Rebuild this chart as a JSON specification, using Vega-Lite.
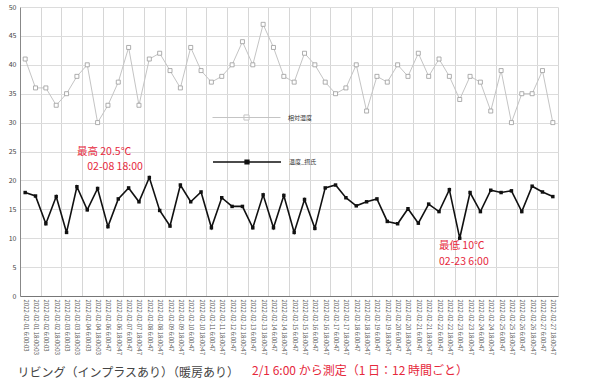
{
  "$schema": "https://vega.github.io/schema/vega-lite/v6.json",
  "width": 538,
  "height": 289,
  "autosize": {"type": "none"},
  "padding": {"left": 20, "top": 7, "right": 32, "bottom": 84},
  "config": {
    "font": "Noto Sans CJK JP",
    "view": {"stroke": null},
    "axisY": {"values": [0, 10, 20, 30, 40, 50], "labelFontSize": 7, "labelColor": "#444", "ticks": false, "labelPadding": 4, "gridColor": "#dcdcdc", "domainColor": "#888"}
  },
  "title": {"text": "2/1 6:00 から測定（1 日：12 時間ごと）", "orient": "bottom", "anchor": "start", "frame": "group", "dx": 232, "offset": -3, "baseline": "alphabetic", "fontSize": 12, "fontWeight": "normal", "color": "#e6283c"},
  "data": {"values": [
    {"t": "2022-02-01 6:00:03", "h": 41, "c": 17.9},
    {"t": "2022-02-01 18:00:03", "h": 36, "c": 17.3},
    {"t": "2022-02-02 6:00:03", "h": 36, "c": 12.5},
    {"t": "2022-02-02 18:00:03", "h": 33, "c": 17.2},
    {"t": "2022-02-03 6:00:03", "h": 35, "c": 11.0},
    {"t": "2022-02-03 18:00:03", "h": 38, "c": 18.9},
    {"t": "2022-02-04 6:00:03", "h": 40, "c": 14.9},
    {"t": "2022-02-04 18:00:03", "h": 30, "c": 18.6},
    {"t": "2022-02-06 6:00:47", "h": 33, "c": 12.0},
    {"t": "2022-02-06 18:00:47", "h": 37, "c": 16.8},
    {"t": "2022-02-07 6:00:47", "h": 43, "c": 18.7},
    {"t": "2022-02-07 18:00:47", "h": 33, "c": 16.3},
    {"t": "2022-02-08 6:00:47", "h": 41, "c": 20.5},
    {"t": "2022-02-08 18:00:47", "h": 42, "c": 14.8},
    {"t": "2022-02-09 6:00:47", "h": 39, "c": 12.1},
    {"t": "2022-02-09 18:00:47", "h": 36, "c": 19.2},
    {"t": "2022-02-10 6:00:47", "h": 43, "c": 16.3},
    {"t": "2022-02-10 18:00:47", "h": 39, "c": 18.0},
    {"t": "2022-02-11 6:00:47", "h": 37, "c": 11.8},
    {"t": "2022-02-11 18:00:47", "h": 38, "c": 17.0},
    {"t": "2022-02-12 6:00:47", "h": 40, "c": 15.5},
    {"t": "2022-02-12 18:00:47", "h": 44, "c": 15.5},
    {"t": "2022-02-13 6:00:47", "h": 40, "c": 11.8},
    {"t": "2022-02-13 18:00:47", "h": 47, "c": 17.5},
    {"t": "2022-02-14 6:00:47", "h": 43, "c": 11.8},
    {"t": "2022-02-14 18:00:47", "h": 38, "c": 17.4},
    {"t": "2022-02-15 6:00:47", "h": 37, "c": 11.0},
    {"t": "2022-02-15 18:00:47", "h": 42, "c": 16.7},
    {"t": "2022-02-16 6:00:47", "h": 40, "c": 11.7},
    {"t": "2022-02-16 18:00:47", "h": 37, "c": 18.7},
    {"t": "2022-02-17 6:00:47", "h": 35, "c": 19.2},
    {"t": "2022-02-17 18:00:47", "h": 36, "c": 17.0},
    {"t": "2022-02-18 6:00:47", "h": 40, "c": 15.6},
    {"t": "2022-02-18 18:00:47", "h": 32, "c": 16.3},
    {"t": "2022-02-19 6:00:47", "h": 38, "c": 16.8},
    {"t": "2022-02-19 18:00:47", "h": 37, "c": 12.9},
    {"t": "2022-02-20 6:00:47", "h": 40, "c": 12.5},
    {"t": "2022-02-20 18:00:47", "h": 38, "c": 15.1},
    {"t": "2022-02-21 6:00:47", "h": 42, "c": 12.6},
    {"t": "2022-02-21 18:00:47", "h": 38, "c": 15.9},
    {"t": "2022-02-22 6:00:47", "h": 41, "c": 14.6},
    {"t": "2022-02-22 18:00:47", "h": 38, "c": 18.4},
    {"t": "2022-02-23 6:00:47", "h": 34, "c": 10.0},
    {"t": "2022-02-23 18:00:47", "h": 38, "c": 17.9},
    {"t": "2022-02-24 6:00:47", "h": 37, "c": 14.6},
    {"t": "2022-02-24 18:00:47", "h": 32, "c": 18.3},
    {"t": "2022-02-25 6:00:47", "h": 39, "c": 17.9},
    {"t": "2022-02-25 18:00:47", "h": 30, "c": 18.2},
    {"t": "2022-02-26 6:00:47", "h": 35, "c": 14.6},
    {"t": "2022-02-26 18:00:47", "h": 35, "c": 19.0},
    {"t": "2022-02-27 6:00:47", "h": 39, "c": 18.0},
    {"t": "2022-02-27 18:00:47", "h": 30, "c": 17.2}
  ]},
  "encoding": {
    "x": {
      "field": "t", "type": "ordinal", "sort": null, "bandPosition": 0.5,
      "scale": {"type": "band", "paddingInner": 0, "paddingOuter": 0},
      "axis": {
        "title": "リビング（インプラスあり）（暖房あり）",
        "titleAnchor": "start", "titleAlign": "left", "titleX": -3, "titleY": 80, "titleBaseline": "alphabetic",
        "titleFontSize": 12, "titleFontWeight": "normal", "titleColor": "#444",
        "labelAngle": 90, "labelFontSize": 6, "labelColor": "#555", "labelPadding": 3,
        "labelOverlap": false, "labelBound": false, "ticks": false, "tickBand": "extent",
        "grid": true, "gridColor": "#d6d6d6",
        "gridOpacity": {"condition": {"test": "indexof(domain('x'), datum.value) % 2 == 1", "value": 1}, "value": 0},
        "domainColor": "#777"
      }
    }
  },
  "layer": [
    {
      "mark": {"type": "line", "strokeWidth": 1},
      "encoding": {
        "y": {"field": "h", "type": "quantitative", "title": null, "scale": {"domain": [0, 50], "nice": false}},
        "stroke": {"datum": "相対湿度", "scale": {"range": ["#c4c4c4"]},
          "legend": {"orient": "none", "legendX": 192, "legendY": 76, "title": null, "padding": 0,
            "symbolType": "M-1,0H1M-0.075,-0.075H0.075V0.075H-0.075Z", "symbolSize": 4624,
            "symbolStrokeWidth": 1, "symbolFillColor": "white", "labelFontSize": 6, "labelColor": "#333", "labelOffset": 7}}
      }
    },
    {
      "mark": {"type": "point", "shape": "square", "filled": true, "fill": "white", "stroke": "#9a9a9a", "strokeWidth": 0.8, "size": 16, "opacity": 1},
      "encoding": {
        "y": {"field": "h", "type": "quantitative", "title": null, "scale": {"domain": [0, 50], "nice": false}}
      }
    },
    {
      "mark": {"type": "line", "strokeWidth": 1.6},
      "encoding": {
        "y": {"field": "c", "type": "quantitative", "title": null, "scale": {"domain": [0, 50], "nice": false}},
        "stroke": {"datum": "温度_摂氏", "scale": {"range": ["#111111"]},
          "legend": {"orient": "none", "legendX": 192, "legendY": 120, "title": null, "padding": 0,
            "symbolType": "M-1,0H1M-0.055,-0.055H0.055V0.055H-0.055Z", "symbolSize": 4624,
            "symbolStrokeWidth": 1.5, "symbolFillColor": "#111111", "labelFontSize": 6, "labelColor": "#333", "labelOffset": 7}}
      }
    },
    {
      "mark": {"type": "point", "shape": "square", "filled": true, "color": "#111111", "size": 12, "opacity": 1},
      "encoding": {
        "y": {"field": "c", "type": "quantitative", "title": null, "scale": {"domain": [0, 50], "nice": false}}
      }
    },
    {
      "data": {"values": [
        {"t": "2022-02-03 18:00:03", "v": 25.0, "text": "最高 20.5℃"},
        {"t": "2022-02-04 6:00:03", "v": 22.3, "text": "02-08 18:00"},
        {"t": "2022-02-22 6:00:47", "v": 8.6, "text": "最低 10℃"},
        {"t": "2022-02-22 6:00:47", "v": 5.9, "text": "02-23 6:00"}
      ]},
      "mark": {"type": "text", "align": "left", "baseline": "middle", "fontSize": 10.5, "color": "#e6283c"},
      "encoding": {
        "y": {"field": "v", "type": "quantitative", "title": null, "scale": {"domain": [0, 50], "nice": false}},
        "text": {"field": "text"}
      }
    }
  ],
  "resolve": {"scale": {"stroke": "independent"}, "legend": {"stroke": "independent"}}
}
